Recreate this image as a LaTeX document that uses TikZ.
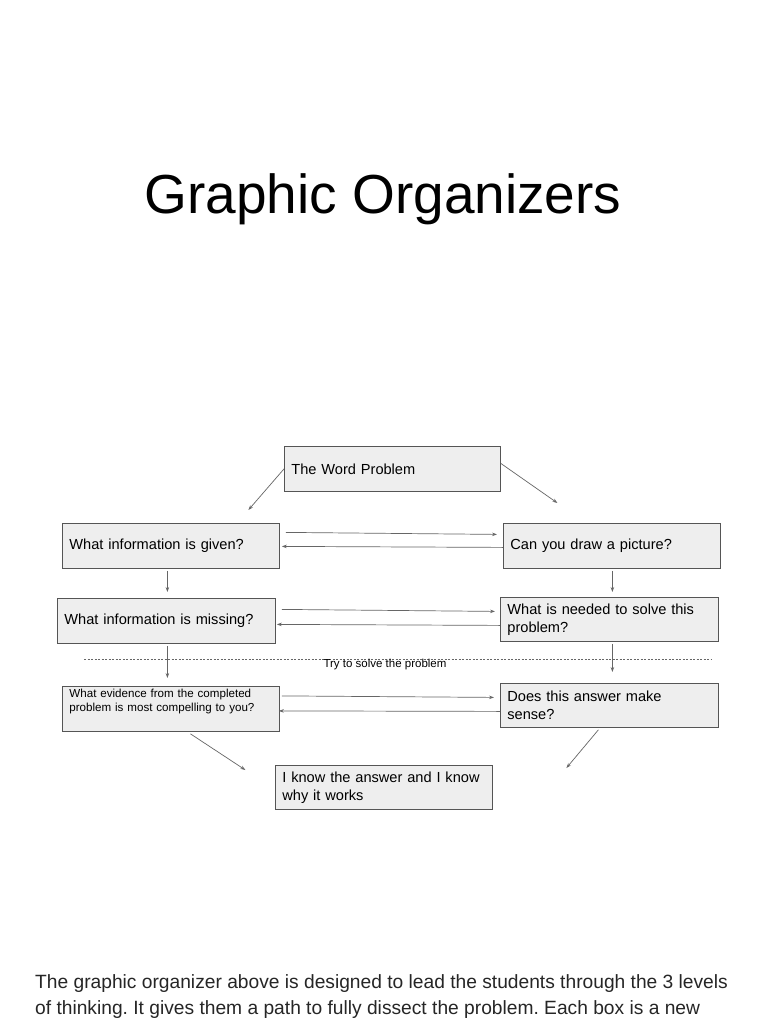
\documentclass[tikz,border=0pt]{standalone}
\usepackage{fontspec}
\setmainfont{Liberation Sans}
\usetikzlibrary{calc,arrows.meta}
\definecolor{boxfill}{HTML}{EEEEEE}
\definecolor{boxline}{HTML}{555555}
\definecolor{arrcol}{HTML}{666666}
\tikzset{
  box/.style={draw=boxline, fill=boxfill, line width=0.8pt, anchor=north west,
    inner xsep=7pt, inner ysep=0pt, align=left, font=\fontsize{14.6}{18}\selectfont},
  arr/.style={draw=arrcol, line width=0.7pt, -{Stealth[length=5pt,width=3.5pt]}},
}
\frenchspacing
\begin{document}
\begin{tikzpicture}[x=1pt,y=-1pt]
\useasboundingbox (0,0) rectangle (768,1024);
\fill[white] (0,0) rectangle (768,1024);

\node[font=\fontsize{55}{60}\selectfont, anchor=base] (title) at (383,214) {Graphic Organizers};

\node[box, minimum width=216pt, minimum height=45pt, text width=202pt] (wp) at (284,446) {The Word Problem};
\node[box, minimum width=217pt, minimum height=45pt, text width=203pt] (given) at (62,523) {What information is given?};
\node[box, minimum width=217pt, minimum height=45pt, text width=203pt] (pic) at (503,523) {Can you draw a picture?};
\node[box, minimum width=218pt, minimum height=45pt, text width=204pt] (missing) at (57,598) {What information is missing?};
\node[box, minimum width=218pt, minimum height=44pt, text width=204pt] (needed) at (500,597) {What is needed to solve this\\problem?};
\node[box, minimum width=217pt, minimum height=45pt, text width=203pt, font=\fontsize{11.6}{14}\selectfont] (evid) at (62,686)
  {\parbox[t][45pt][t]{203pt}{\vspace{3pt}What evidence from the completed\\problem is most compelling to you?}};
\node[box, minimum width=218pt, minimum height=44pt, text width=204pt] (sense) at (500,683) {Does this answer make\\sense?};
\node[box, minimum width=217pt, minimum height=44pt, text width=203pt] (know) at (275,765) {I know the answer and I know\\why it works};

% dashed separator
\coordinate (dl) at (84,659);
\coordinate (dr) at (712,659);
\draw[draw=arrcol, dashed, dash pattern=on 2pt off 1.5pt, line width=0.6pt] (dl) -- (dr);
\node[font=\fontsize{11.5}{13}\selectfont, inner sep=0pt, anchor=base] (try) at (385,667) {Try to solve the problem};

% connectors
\draw[arr] (wp.west) -- ($(given.north)+(77.5,-13)$);
\draw[arr] ($(wp.east)+(0,-5.5)$) -- ($(pic.north)+(-54.5,-20)$);

\draw[arr] ($(given.east)+(6,-13.5)$) -- ($(pic.west)+(-6,-11.5)$);
\draw[arr] ($(pic.west)+(0,1.5)$) -- ($(given.east)+(2,0.5)$);

\draw[arr] ($(given.south)+(-3.5,2)$) -- ($(missing.north)+(1,-6)$);
\draw[arr] ($(pic.south)+(0.5,2)$) -- ($(needed.north)+(3,-5)$);

\draw[arr] ($(missing.east)+(6,-11.5)$) -- ($(needed.west)+(-5,-8)$);
\draw[arr] ($(needed.west)+(0,6)$) -- ($(missing.east)+(1,3.5)$);

\draw[arr] ($(missing.south)+(1,2)$) -- ($(evid.north)+(-3.5,-8)$);
\draw[arr] ($(needed.south)+(3,2)$) -- ($(sense.north)+(3,-11)$);

\draw[arr] ($(evid.east)+(2,-13)$) -- ($(sense.west)+(-6,-8)$);
\draw[arr] ($(sense.west)+(0,6)$) -- ($(evid.east)+(-1,2)$);

\draw[arr] ($(evid.south)+(19.5,2)$) -- ($(know.north)+(-138.5,5)$);
\draw[arr] ($(sense.south)+(-11,2)$) -- ($(know.north)+(182.5,3)$);

% bottom text
\node[anchor=base west, inner sep=0pt, font=\fontsize{19.2}{26}\selectfont, color=black!85] (p1) at (35,988)
  {The graphic organizer above is designed to lead the students through the 3 levels};
\node[anchor=base west, inner sep=0pt, font=\fontsize{19.2}{26}\selectfont, color=black!85] (p2) at (35,1014)
  {of thinking. It gives them a path to fully dissect the problem. Each box is a new};
\end{tikzpicture}
\end{document}
